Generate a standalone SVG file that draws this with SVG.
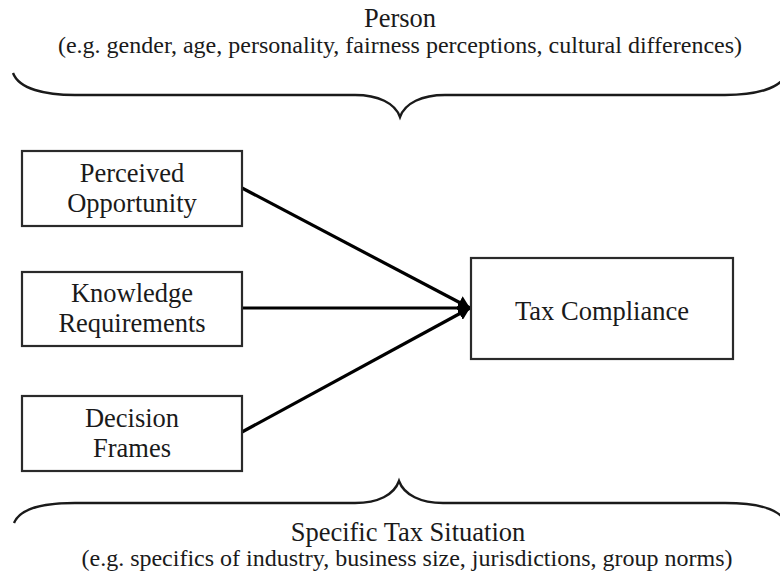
<svg xmlns="http://www.w3.org/2000/svg" width="780" height="572" viewBox="0 0 780 572">
<style>
  text { font-family: "Liberation Serif", "Times New Roman", serif; fill: #1a1a1a; text-anchor: middle; }
  .t26 { font-size: 26.5px; }
  .t24 { font-size: 24px; }
  .box { fill: #ffffff; stroke: #2a2a2a; stroke-width: 2.2; }
  .brace { fill: none; stroke: #1a1a1a; stroke-width: 2.4; }
  .conn { fill: none; stroke: #000000; stroke-width: 3.2; }
</style>
<defs>
  <marker id="arrow" viewBox="0 0 12 14" refX="12" refY="7" markerWidth="12" markerHeight="14" markerUnits="userSpaceOnUse" orient="auto">
    <path d="M0,0 L12,7 L0,14 Z" fill="#000000"/>
  </marker>
</defs>
<rect width="780" height="572" fill="#ffffff"/>

<g id="person">
  <text class="t26" x="400" y="27">Person</text>
  <text class="t24" x="400" y="53">(e.g. gender, age, personality, fairness perceptions, cultural differences)</text>
  <path class="brace" d="M13,73 C19,89 45,95 75,95 L355,95 C378,95 395,103 400,117 C405,103 422,95 445,95 L725,95 C755,95 781,89 787,73"/>
</g>

<g id="situation">
  <path class="brace" d="M14,523 C20,508 45,503 75,503 L355,503 C378,503 394,495 399,481 C404,495 421,503 443,503 L725,503 C755,503 780,508 786,523"/>
  <text class="t26" x="408" y="541">Specific Tax Situation</text>
  <text class="t24" x="407" y="566">(e.g. specifics of industry, business size, jurisdictions, group norms)</text>
</g>

<g id="connectors">
  <line class="conn" x1="242" y1="188" x2="470" y2="308" marker-end="url(#arrow)"/>
  <line class="conn" x1="242" y1="308" x2="470" y2="308" marker-end="url(#arrow)"/>
  <line class="conn" x1="242" y1="432" x2="470" y2="308" marker-end="url(#arrow)"/>
</g>

<g id="perceived-opportunity">
  <rect class="box" x="22" y="151" width="220" height="75"/>
  <text class="t26" x="132" y="182">Perceived</text>
  <text class="t26" x="132" y="212">Opportunity</text>
</g>

<g id="knowledge-requirements">
  <rect class="box" x="22" y="272" width="220" height="74"/>
  <text class="t26" x="132" y="302">Knowledge</text>
  <text class="t26" x="132" y="332">Requirements</text>
</g>

<g id="decision-frames">
  <rect class="box" x="22" y="396" width="220" height="75"/>
  <text class="t26" x="132" y="427">Decision</text>
  <text class="t26" x="132" y="457">Frames</text>
</g>

<g id="tax-compliance">
  <rect class="box" x="471" y="258" width="262" height="101"/>
  <text class="t26" x="602" y="320">Tax Compliance</text>
</g>
</svg>
